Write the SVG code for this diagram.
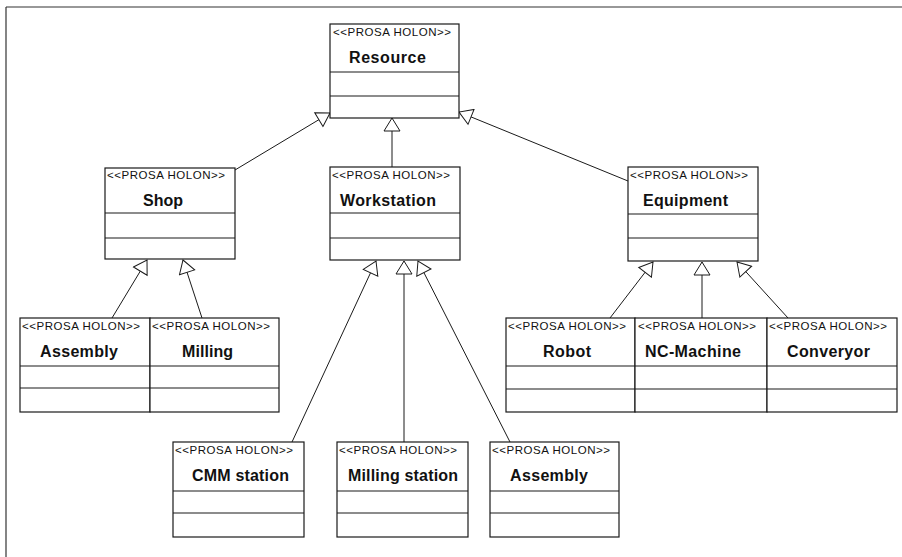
<svg xmlns="http://www.w3.org/2000/svg" width="902" height="557" viewBox="0 0 902 557">
<style>
.box{fill:#fff;stroke:#1a1a1a;stroke-width:1.2}
.sep{stroke:#1a1a1a;stroke-width:1.2}
.st{font-family:"Liberation Sans",Arial,sans-serif;font-size:11.5px;fill:#111}
.nm{font-family:"Liberation Sans",Arial,sans-serif;font-size:16px;font-weight:bold;fill:#111;text-anchor:middle}
.cn{stroke:#1a1a1a;stroke-width:1;fill:none;marker-end:url(#tri)}
.frame{stroke:#333;stroke-width:1.2}
</style>
<defs>
<marker id="tri" viewBox="0 0 15 18" markerWidth="15" markerHeight="18" refX="14" refY="9" orient="auto" markerUnits="userSpaceOnUse">
<path d="M1,1 L14,9 L1,17 Z" fill="#fff" stroke="#1a1a1a" stroke-width="1"/>
</marker>
</defs>
<rect width="902" height="557" fill="#fff"/>
<line class="frame" x1="6" y1="7" x2="902" y2="7"/>
<line class="frame" x1="6" y1="7" x2="6" y2="557"/>
<g id="connectors">
<line class="cn" x1="235" y1="170" x2="330" y2="113"/>
<line class="cn" x1="392" y1="167" x2="392" y2="118"/>
<line class="cn" x1="628" y1="181" x2="459" y2="112"/>
<line class="cn" x1="112" y1="318" x2="147" y2="260"/>
<line class="cn" x1="202" y1="318" x2="183" y2="260"/>
<line class="cn" x1="292" y1="442" x2="376" y2="261"/>
<line class="cn" x1="404" y1="442" x2="404" y2="261"/>
<line class="cn" x1="510" y1="442" x2="418" y2="261"/>
<line class="cn" x1="610" y1="318" x2="653" y2="262"/>
<line class="cn" x1="702" y1="318" x2="702" y2="262"/>
<line class="cn" x1="788" y1="318" x2="737" y2="262"/>
</g>
<g id="resource">
<rect class="box" x="330" y="24" width="129" height="94"/>
<line class="sep" x1="330" y1="72" x2="459" y2="72"/>
<line class="sep" x1="330" y1="96" x2="459" y2="96"/>
<text class="st" x="333" y="36" textLength="118">&lt;&lt;PROSA HOLON&gt;&gt;</text>
<text class="nm" x="387.5" y="63" textLength="77">Resource</text>
</g>
<g id="shop">
<rect class="box" x="105" y="168" width="130" height="91"/>
<line class="sep" x1="105" y1="213" x2="235" y2="213"/>
<line class="sep" x1="105" y1="238" x2="235" y2="238"/>
<text class="st" x="107" y="179" textLength="118">&lt;&lt;PROSA HOLON&gt;&gt;</text>
<text class="nm" x="163" y="206" textLength="40">Shop</text>
</g>
<g id="workstation">
<rect class="box" x="330" y="167" width="130" height="93"/>
<line class="sep" x1="330" y1="213" x2="460" y2="213"/>
<line class="sep" x1="330" y1="238" x2="460" y2="238"/>
<text class="st" x="332" y="179" textLength="118">&lt;&lt;PROSA HOLON&gt;&gt;</text>
<text class="nm" x="388" y="206" textLength="96">Workstation</text>
</g>
<g id="equipment">
<rect class="box" x="628" y="167" width="130" height="94"/>
<line class="sep" x1="628" y1="214" x2="758" y2="214"/>
<line class="sep" x1="628" y1="238" x2="758" y2="238"/>
<text class="st" x="630" y="179" textLength="118">&lt;&lt;PROSA HOLON&gt;&gt;</text>
<text class="nm" x="685.5" y="206" textLength="85">Equipment</text>
</g>
<g id="assembly-shop">
<rect class="box" x="20" y="318" width="130" height="94"/>
<line class="sep" x1="20" y1="366" x2="150" y2="366"/>
<line class="sep" x1="20" y1="388" x2="150" y2="388"/>
<text class="st" x="22" y="330" textLength="118">&lt;&lt;PROSA HOLON&gt;&gt;</text>
<text class="nm" x="79" y="357" textLength="78">Assembly</text>
</g>
<g id="milling">
<rect class="box" x="150" y="318" width="129" height="94"/>
<line class="sep" x1="150" y1="366" x2="279" y2="366"/>
<line class="sep" x1="150" y1="388" x2="279" y2="388"/>
<text class="st" x="152" y="330" textLength="118">&lt;&lt;PROSA HOLON&gt;&gt;</text>
<text class="nm" x="207.5" y="357" textLength="51">Milling</text>
</g>
<g id="robot">
<rect class="box" x="506" y="318" width="129" height="94"/>
<line class="sep" x1="506" y1="366" x2="635" y2="366"/>
<line class="sep" x1="506" y1="389" x2="635" y2="389"/>
<text class="st" x="508" y="330" textLength="118">&lt;&lt;PROSA HOLON&gt;&gt;</text>
<text class="nm" x="567" y="357" textLength="48">Robot</text>
</g>
<g id="nc-machine">
<rect class="box" x="635" y="318" width="132" height="94"/>
<line class="sep" x1="635" y1="366" x2="767" y2="366"/>
<line class="sep" x1="635" y1="389" x2="767" y2="389"/>
<text class="st" x="638" y="330" textLength="118">&lt;&lt;PROSA HOLON&gt;&gt;</text>
<text class="nm" x="693" y="357" textLength="96">NC-Machine</text>
</g>
<g id="converyor">
<rect class="box" x="767" y="318" width="130" height="94"/>
<line class="sep" x1="767" y1="366" x2="897" y2="366"/>
<line class="sep" x1="767" y1="389" x2="897" y2="389"/>
<text class="st" x="769" y="330" textLength="118">&lt;&lt;PROSA HOLON&gt;&gt;</text>
<text class="nm" x="828.5" y="357" textLength="83">Converyor</text>
</g>
<g id="cmm-station">
<rect class="box" x="173" y="442" width="131" height="95"/>
<line class="sep" x1="173" y1="491" x2="304" y2="491"/>
<line class="sep" x1="173" y1="513" x2="304" y2="513"/>
<text class="st" x="175" y="454" textLength="118">&lt;&lt;PROSA HOLON&gt;&gt;</text>
<text class="nm" x="240.5" y="481" textLength="97">CMM station</text>
</g>
<g id="milling-station">
<rect class="box" x="337" y="442" width="131" height="95"/>
<line class="sep" x1="337" y1="491" x2="468" y2="491"/>
<line class="sep" x1="337" y1="513" x2="468" y2="513"/>
<text class="st" x="339" y="454" textLength="118">&lt;&lt;PROSA HOLON&gt;&gt;</text>
<text class="nm" x="403" y="481" textLength="110">Milling station</text>
</g>
<g id="assembly-station">
<rect class="box" x="490" y="442" width="129" height="95"/>
<line class="sep" x1="490" y1="491" x2="619" y2="491"/>
<line class="sep" x1="490" y1="513" x2="619" y2="513"/>
<text class="st" x="492" y="454" textLength="118">&lt;&lt;PROSA HOLON&gt;&gt;</text>
<text class="nm" x="549" y="481" textLength="78">Assembly</text>
</g>
</svg>
